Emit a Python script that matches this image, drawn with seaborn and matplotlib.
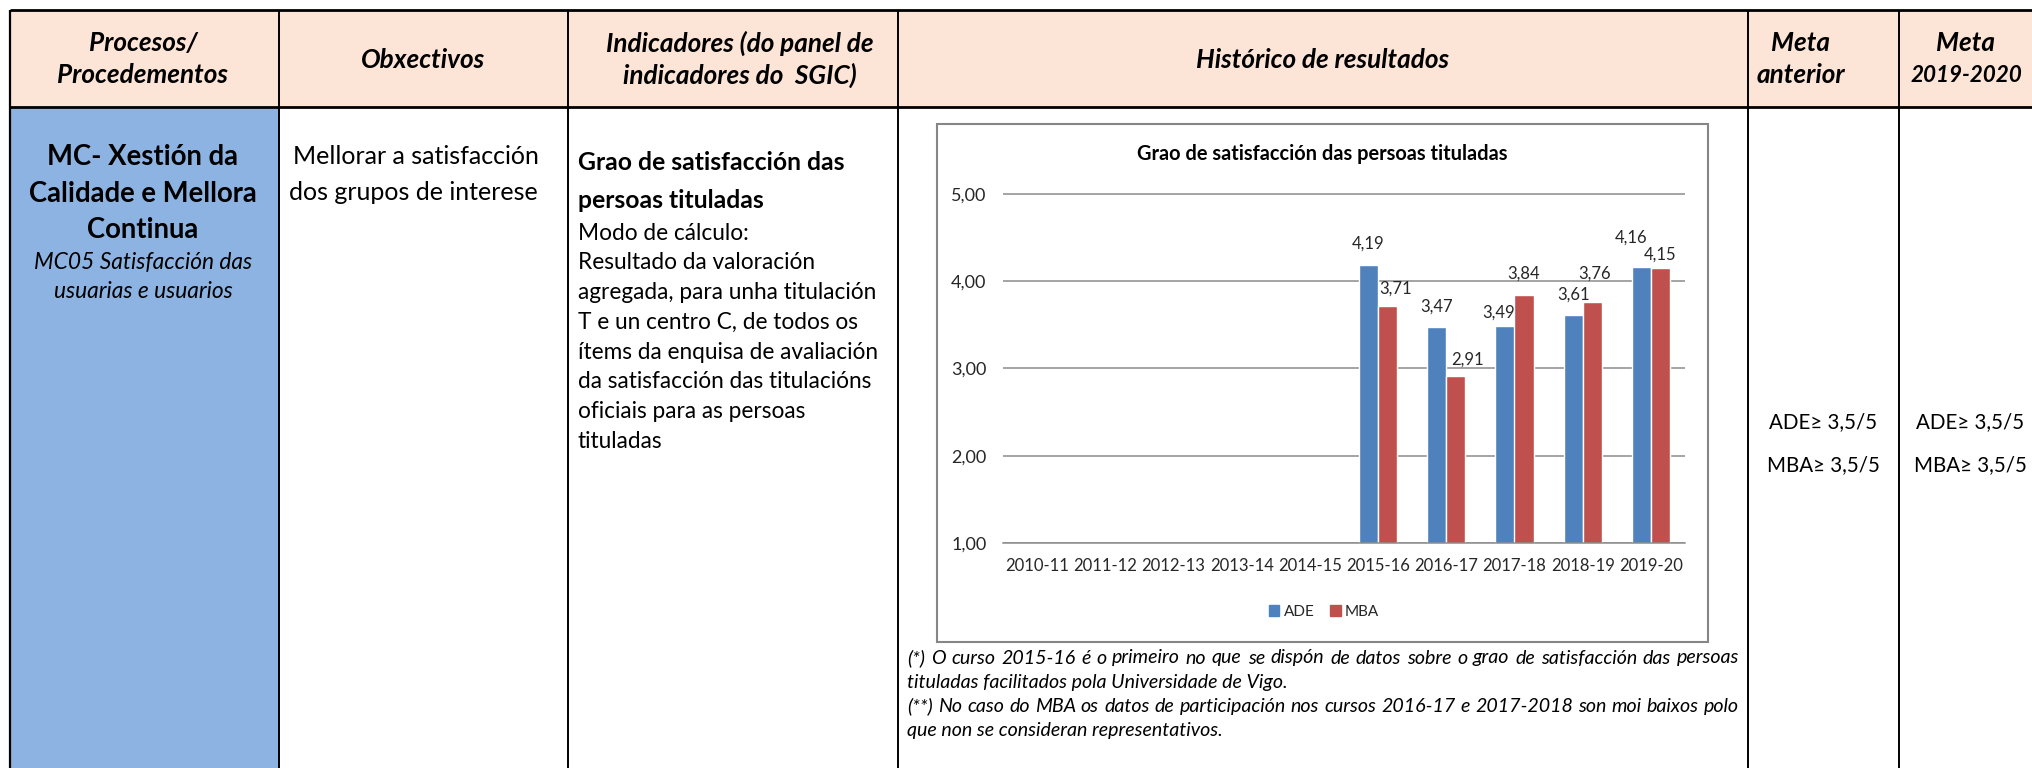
import numpy as np
import pandas as pd
import matplotlib
matplotlib.use('Agg')
import matplotlib.pyplot as plt
from matplotlib.patches import Rectangle, Patch
from matplotlib.font_manager import FontProperties
from matplotlib.textpath import TextPath
import seaborn as sns

sns.set_theme(style='white')
FONT = ['Lato', 'DejaVu Sans']
plt.rcParams['font.family'] = FONT

# Data
cursos = ['2010-11', '2011-12', '2012-13', '2013-14', '2014-15',
          '2015-16', '2016-17', '2017-18', '2018-19', '2019-20']
ade = [np.nan, np.nan, np.nan, np.nan, np.nan, 4.19, 3.47, 3.49, 3.61, 4.16]
mba = [np.nan, np.nan, np.nan, np.nan, np.nan, 3.71, 2.91, 3.84, 3.76, 4.15]
series = ['ADE', 'MBA']
y_ticks = [1, 2, 3, 4, 5]
meta_lines = ['ADE≥ 3,5/5', 'MBA≥ 3,5/5']

# Colours
PEACH = '#FCE4D6'
CELL_BLUE = '#8DB3E2'
BLUE = '#4F81BD'
RED = '#C0504D'
GRID = '#8C8C8C'
TXT = '#262626'

W, H, DPI = 2033, 768, 100


def fit(text, width_px, weight='normal', style='normal'):
    # font size (pt) that gives the text the wanted ink width in pixels
    fp = FontProperties(family=FONT, weight=weight, style=style)
    w = TextPath((0, 0), text, size=100, prop=fp).get_extents().width
    return 100 * width_px * 72 / (DPI * w)


fs_head = fit('Procedementos', 170, 'bold', 'italic')
fs_head_num = fs_head * 0.86
fs_blue_b = fit('Calidade e Mellora', 226, 'bold')
fs_blue_i = fit('MC05 Satisfacción das', 217, style='italic')
fs_obj = fit('Mellorar a satisfacción', 243)
fs_ind_b = fit('Grao de satisfacción das', 265, 'bold')
fs_body = fit('agregada, para unha titulación', 295)
fs_meta = fs_body * 0.91
fs_title = fit('Grao de satisfacción das persoas tituladas', 368, 'bold')
fs_tick = fit('2010-11', 62)
fs_ytick = fit('5,00', 34)
fs_note = fit('tituladas facilitados pola Universidade de Vigo.', 380, style='italic')
fs_leg = fit('ADE', 30)

fig = plt.figure(figsize=(W / DPI, H / DPI), dpi=DPI)
fig.patch.set_facecolor('white')

# Background axes in pixel coordinates for the table
bg = fig.add_axes([0, 0, 1, 1])
bg.set_xlim(0, W)
bg.set_ylim(H, 0)
bg.axis('off')

cols = [10, 279, 568, 898, 1748, 1899]
top, head_bottom = 10, 107
bg.add_patch(Rectangle((cols[0], top), W, head_bottom - top, color=PEACH, lw=0))
bg.add_patch(Rectangle((cols[0], head_bottom), cols[1] - cols[0], H, color=CELL_BLUE, lw=0))
for x in cols:
    bg.plot([x, x], [top, H], color='black', lw=1.6 if x == cols[0] else 1.4,
            solid_capstyle='butt')
bg.plot([cols[0], W], [top, top], color='black', lw=2.0, solid_capstyle='butt')
bg.plot([cols[0], W], [head_bottom, head_bottom], color='black', lw=2.0, solid_capstyle='butt')

# Header texts
hk = dict(fontsize=fs_head, fontweight='bold', fontstyle='italic', ha='center', va='center', color='black')
bg.text(143, 43, 'Procesos/', **hk)
bg.text(143, 75, 'Procedementos', **hk)
bg.text(423, 60, 'Obxectivos', **hk)
bg.text(740, 43, 'Indicadores (do panel de', **hk)
bg.text(740, 75, 'indicadores do  SGIC)', **hk)
bg.text(1323, 60, 'Histórico de resultados', **hk)
bg.text(1801, 43, 'Meta', **hk)
bg.text(1801, 75, 'anterior', **hk)
bg.text(1966, 43, 'Meta', **hk)
bg.text(1966, 75, '2019-2020', **dict(hk, fontsize=fs_head_num))

# Column 1
bk = dict(fontsize=fs_blue_b, fontweight='bold', ha='center', va='center', color='black')
bg.text(143, 157, 'MC- Xestión da', **bk)
bg.text(143, 194, 'Calidade e Mellora', **bk)
bg.text(143, 230, 'Continua', **bk)
ik = dict(fontsize=fs_blue_i, fontstyle='italic', ha='center', va='center', color='black')
bg.text(143, 263, 'MC05 Satisfacción das', **ik)
bg.text(143, 291, 'usuarias e usuarios', **ik)

# Column 2
bg.text(293, 157, 'Mellorar a satisfacción', fontsize=fs_obj, va='center', color='black')
bg.text(289, 192, 'dos grupos de interese', fontsize=fs_obj, va='center', color='black')

# Column 3
bg.text(578, 162, 'Grao de satisfacción das', fontsize=fs_ind_b, fontweight='bold', va='center', color='black')
bg.text(578, 200, 'persoas tituladas', fontsize=fs_ind_b, fontweight='bold', va='center', color='black')
body = ['Modo de cálculo:', 'Resultado da valoración', 'agregada, para unha titulación',
        'T e un centro C, de todos os', 'ítems da enquisa de avaliación',
        'da satisfacción das titulacións', 'oficiais para as persoas', 'tituladas']
for i, line in enumerate(body):
    bg.text(578, 233 + i * 29.8, line, fontsize=fs_body, va='center', color='black')

# Meta columns
for cx in [1823, 1970]:
    for j, line in enumerate(meta_lines):
        bg.text(cx, 422 + j * 43, line, fontsize=fs_meta, ha='center', va='center', color='black')

# Chart frame
bg.add_patch(Rectangle((937, 124), 771, 518, fc='white', ec='#868686', lw=1.5))
bg.text(1322, 154, 'Grao de satisfacción das persoas tituladas', fontsize=fs_title,
        fontweight='bold', ha='center', va='center', color='black')

# Bar chart
ax = fig.add_axes([1003 / W, 1 - 543 / H, 682 / W, 350 / H])
df = pd.DataFrame({'Curso': cursos * 2,
                   'Serie': ['ADE'] * len(cursos) + ['MBA'] * len(cursos),
                   'Valor': ade + mba}).dropna()
sns.barplot(data=df, x='Curso', y='Valor', hue='Serie', order=cursos, hue_order=series,
            palette=[BLUE, RED], width=0.56, saturation=1, errorbar=None, legend=False, ax=ax)
ax.set_facecolor('none')
ax.set_ylim(1, 5.01)
ax.set_yticks(y_ticks)
ax.set_yticklabels([f'{v:.2f}'.replace('.', ',') for v in y_ticks])
ax.yaxis.grid(True, color=GRID, lw=1.1)
ax.set_axisbelow(True)
for s in ['top', 'right', 'left']:
    ax.spines[s].set_visible(False)
ax.spines['bottom'].set_color(GRID)
ax.spines['bottom'].set_linewidth(1.1)
ax.set_xlabel('')
ax.set_ylabel('')
ax.tick_params(axis='x', length=0, labelsize=fs_tick, pad=11, colors=TXT)
ax.tick_params(axis='y', length=0, labelsize=fs_ytick, pad=12, colors=TXT)

# Data labels (a few were moved by hand in the original)
nudge = {('ADE', '2017-18'): (-6, -8), ('ADE', '2019-20'): (-10, 9),
         ('MBA', '2015-16'): (8, -3), ('MBA', '2016-17'): (12, -4),
         ('MBA', '2018-19'): (2, 7), ('MBA', '2019-20'): (0, -8)}
for name, cont in zip(series, ax.containers):
    for bar in cont:
        h = bar.get_height()
        if np.isnan(h):
            continue
        xc = bar.get_x() + bar.get_width() / 2
        curso = cursos[int(round(xc))]
        dx, dy = nudge.get((name, curso), (0, 0))
        ax.annotate(f'{h:.2f}'.replace('.', ','), (xc, h), xytext=(dx, 21 + dy),
                    textcoords='offset pixels', ha='center', va='center',
                    fontsize=fs_tick, color=TXT, annotation_clip=False)

handles = [Patch(color=BLUE), Patch(color=RED)]
fig.legend(handles, series, loc='center', bbox_to_anchor=(1324 / W, 1 - 612 / H), ncol=2,
           frameon=False, fontsize=fs_leg, handlelength=0.7, handleheight=0.7,
           handletextpad=0.3, columnspacing=1.0, labelcolor=TXT)

# Footnotes, first line of each paragraph justified
notes = [('(*) O curso 2015-16 é o primeiro no que se dispón de datos sobre o grao de satisfacción das persoas', True),
         ('tituladas facilitados pola Universidade de Vigo.', False),
         ('(**) No caso do MBA os datos de participación nos cursos 2016-17 e 2017-2018 son moi baixos polo', True),
         ('que non se consideran representativos.', False)]
renderer = fig.canvas.get_renderer()
x0, x1 = 907, 1739
for k, (line, just) in enumerate(notes):
    y = 658 + k * 24.2
    nk = dict(fontsize=fs_note, fontstyle='italic', va='center', color='black')
    if not just:
        bg.text(x0, y, line, **nk)
        continue
    words = line.split(' ')
    texts = [bg.text(0, y, w, **nk) for w in words]
    widths = [t.get_window_extent(renderer).width for t in texts]
    gap = (x1 - x0 - sum(widths)) / (len(words) - 1)
    x = x0
    for t, w in zip(texts, widths):
        t.set_x(x)
        x += w + gap

fig.savefig('out.png', dpi=DPI)
print('saved out.png')
